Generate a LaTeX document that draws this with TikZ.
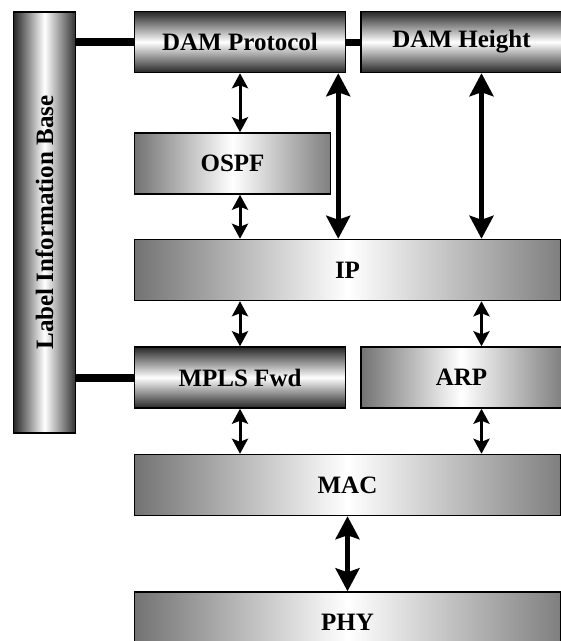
\documentclass[tikz,border=0pt]{standalone}
\usepackage{fontspec}
\setmainfont{Liberation Serif}
\usetikzlibrary{positioning,arrows.meta,calc}

\begin{document}
\begin{tikzpicture}[x=1pt,y=-1pt,
  boite/.style={draw=black,line width=1.5pt,minimum height=61pt,inner sep=0pt,font=\fontsize{25}{29}\selectfont\bfseries},
  layer/.style={boite,left color=black!55,right color=black!50,middle color=white},
  tube/.style={boite,top color=black!85,bottom color=black!85,middle color=white},
  pilier/.style={boite,left color=black!85,right color=black!80,middle color=white},
  link/.style={line width=8pt},
  arr/.style={{Stealth[length=15pt,width=16pt,inset=3pt]}-{Stealth[length=15pt,width=16pt,inset=3pt]},line width=3pt},
  bigarr/.style={{Stealth[length=23pt,width=24pt,inset=4pt]}-{Stealth[length=23pt,width=24pt,inset=4pt]},line width=4.5pt}
]
\useasboundingbox (0,0) rectangle (561,641);
\node[tube,minimum width=211pt] (dampro) at (240,42) {DAM Protocol};
\node[tube,minimum width=201pt,right=14pt of dampro] (damhgt) {DAM Height};
\node[layer,minimum width=196pt,below=59pt of dampro.south west,anchor=north west] (ospf) {OSPF};
\node[layer,minimum width=426pt,below=44pt of ospf.south west,anchor=north west] (ip) {IP};
\node[tube,minimum width=211pt,below=45pt of ip.south west,anchor=north west] (mpls) {MPLS Fwd};
\node[layer,minimum width=201pt,right=14pt of mpls] (arp) {ARP};
\node[layer,minimum width=426pt,below=45pt of mpls.south west,anchor=north west] (mac) {MAC};
\node[layer,minimum width=426pt,below=75pt of mac.south west,anchor=north west] (phy) {PHY};
\node[pilier,minimum width=62pt,minimum height=421pt] (lib) at (44.5,222.5) {\rotatebox{90}{Label Information Base}};
% liaisons epaisses
\draw[link] (lib.east |- dampro.west) -- (dampro.west);
\draw[link] (lib.east |- mpls.west) -- (mpls.west);
\draw[line width=7pt] (dampro.east) -- (damhgt.west);
% fleches
\draw[arr] (dampro.south) -- (dampro.south |- ospf.north);
\draw[arr] (ospf.south -| dampro) -- (ip.north -| dampro);
\draw[bigarr] ($(dampro.south east)+(-8,0)$) -- ($(dampro.south east |- ip.north)+(-8,0)$);
\draw[bigarr] ($(damhgt.south)+(20,0)$) -- ($(damhgt.south |- ip.north)+(20,0)$);
\draw[arr] (ip.south -| mpls) -- (mpls.north);
\draw[arr] ($(ip.south -| arp)+(20,0)$) -- ($(arp.north)+(20,0)$);
\draw[arr] (mpls.south) -- (mpls.south |- mac.north);
\draw[arr] ($(arp.south)+(20,0)$) -- ($(arp.south |- mac.north)+(20,0)$);
\draw[bigarr] (mac.south) -- (phy.north);
\end{tikzpicture}
\end{document}
